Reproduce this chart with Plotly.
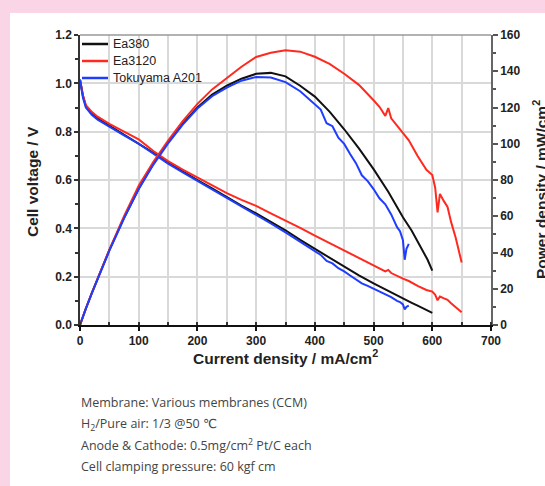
import plotly.graph_objects as go

# ---------------------------------------------------------------------------
# Polarization (cell voltage) and power density curves for three AEM membranes
# ---------------------------------------------------------------------------

current_ea380 = [0, 5, 10, 20, 30, 50, 75, 100, 125, 150, 175, 200, 225, 250, 275,
                 300, 325, 350, 375, 400, 425, 450, 475, 500, 525, 550, 565, 575,
                 585, 592, 600]
voltage_ea380 = [1.015, 0.95, 0.905, 0.875, 0.855, 0.825, 0.788, 0.752, 0.712, 0.672,
                 0.635, 0.600, 0.565, 0.528, 0.494, 0.462, 0.428, 0.392, 0.352, 0.315,
                 0.277, 0.240, 0.205, 0.172, 0.140, 0.108, 0.092, 0.080, 0.068, 0.060,
                 0.050]
power_ea380 = [0, 4.8, 9.1, 17.5, 25.7, 41.3, 59.1, 75.2, 89.0, 100.8, 111.1, 120.0,
               127.1, 132.0, 135.9, 138.6, 139.1, 137.2, 132.0, 126.0, 117.7, 108.0,
               97.4, 86.0, 73.5, 59.4, 52.0, 46.0, 40.0, 36.0, 30.0]

current_ea3120 = [0, 5, 10, 20, 30, 50, 75, 100, 125, 150, 175, 200, 225, 250, 275,
                  300, 325, 350, 375, 400, 425, 450, 475, 500, 510, 520, 525, 530,
                  550, 560, 575, 590, 600, 605, 609, 613, 620, 626, 632, 640, 650]
voltage_ea3120 = [1.015, 0.95, 0.91, 0.882, 0.862, 0.832, 0.800, 0.768, 0.720, 0.678,
                  0.643, 0.610, 0.578, 0.546, 0.518, 0.493, 0.462, 0.433, 0.402, 0.370,
                  0.339, 0.308, 0.279, 0.248, 0.236, 0.222, 0.228, 0.215, 0.192, 0.182,
                  0.162, 0.145, 0.138, 0.125, 0.102, 0.118, 0.110, 0.104, 0.090, 0.075,
                  0.053]
power_ea3120 = [0, 4.8, 9.1, 17.6, 25.9, 41.6, 60.0, 76.8, 90.0, 101.7, 112.5, 122.0,
                130.0, 136.5, 142.5, 147.9, 150.2, 151.6, 150.8, 148.0, 144.1, 138.6,
                132.5, 124.0, 120.4, 115.4, 119.7, 114.0, 105.6, 101.9, 93.2, 85.6,
                82.8, 75.6, 62.1, 72.3, 68.2, 65.1, 56.9, 48.0, 34.5]

current_a201 = [0, 5, 10, 20, 30, 50, 75, 100, 125, 150, 175, 200, 225, 250, 275,
                300, 325, 350, 375, 400, 410, 420, 430, 440, 450, 460, 470, 480, 490,
                500, 510, 520, 530, 540, 545, 550, 553, 556, 560]
voltage_a201 = [1.015, 0.94, 0.90, 0.870, 0.850, 0.820, 0.785, 0.750, 0.708, 0.668,
                0.632, 0.597, 0.561, 0.524, 0.490, 0.456, 0.420, 0.383, 0.344, 0.305,
                0.290, 0.265, 0.255, 0.235, 0.222, 0.205, 0.190, 0.172, 0.162, 0.150,
                0.137, 0.128, 0.115, 0.100, 0.095, 0.085, 0.065, 0.075, 0.080]
power_a201 = [0, 4.7, 9.0, 17.4, 25.5, 41.0, 58.9, 75.0, 88.5, 100.2, 110.6, 119.4,
              126.2, 131.0, 134.8, 136.8, 136.5, 134.0, 129.0, 122.0, 118.9, 111.3,
              109.7, 103.4, 99.9, 94.3, 89.3, 82.6, 79.4, 75.0, 69.9, 66.6, 61.0, 54.0,
              51.8, 46.8, 36.0, 42.0, 44.8]

series = [
    ("Ea380", current_ea380, voltage_ea380, power_ea380, "#111111"),
    ("Ea3120", current_ea3120, voltage_ea3120, power_ea3120, "#ff2a1f"),
    ("Tokuyama A201", current_a201, voltage_a201, power_a201, "#1f3dff"),
]

notes = [
    "Membrane: Various membranes (CCM)",
    "H<sub>2</sub>/Pure air: 1/3 @50 \u2103",
    "Anode &amp; Cathode: 0.5mg/cm<sup>2</sup> Pt/C each",
    "Cell clamping pressure: 60 kgf cm",
]

# ---------------------------------------------------------------------------
W, H = 545, 486
ML, MR, MT, MB = 80, 54, 35, 161
PW, PH = W - ML - MR, H - MT - MB


def px_x(px):
    return (px - ML) / PW


def px_y(py):
    return (H - MB - py) / PH


FONT = "Liberation Sans, Arial, sans-serif"
GRID = "#d9d9d9"

fig = go.Figure()

for name, cur, volt, powr, color in series:
    fig.add_trace(go.Scatter(
        x=cur, y=volt, name=name, mode="lines", showlegend=False,
        line=dict(color=color, width=2), yaxis="y",
    ))
for name, cur, volt, powr, color in series:
    fig.add_trace(go.Scatter(
        x=cur, y=powr, name=name, mode="lines", showlegend=False,
        line=dict(color=color, width=2), yaxis="y2",
    ))

tickfont = dict(family=FONT, size=12, color="#222", weight="bold")

fig.update_layout(
    width=W, height=H,
    margin=dict(l=ML, r=MR, t=MT, b=MB, pad=0),
    paper_bgcolor="white",
    plot_bgcolor="white",
    showlegend=False,
    xaxis=dict(
        range=[0, 700], tick0=0, dtick=100, tickmode="linear",
        ticks="outside", ticklen=4, tickwidth=1.5, tickcolor="#111",
        showline=True, linecolor="#111", linewidth=2,
        showgrid=True, gridcolor=GRID, gridwidth=1.5, zeroline=False,
        minor=dict(tick0=0, dtick=50, ticks="inside", ticklen=3, tickcolor="#333",
                   showgrid=True, gridcolor=GRID, gridwidth=1.5),
        tickfont=tickfont,
    ),
    yaxis=dict(
        range=[0, 1.2], tick0=0, dtick=0.2, tickmode="linear", tickformat=".1f",
        ticks="outside", ticklen=4, tickwidth=1.5, tickcolor="#333",
        showline=True, linecolor="#333", linewidth=1.5,
        showgrid=True, gridcolor=GRID, gridwidth=1.5, zeroline=False,
        minor=dict(tick0=0, dtick=0.1, ticks="outside", ticklen=3, tickcolor="#333",
                   showgrid=False),
        tickfont=tickfont,
    ),
    yaxis2=dict(
        overlaying="y", side="right",
        range=[0, 160], tick0=0, dtick=20, tickmode="linear",
        ticks="outside", ticklen=5, tickwidth=1.5, tickcolor="#555",
        showline=True, linecolor="#666", linewidth=1.5,
        showgrid=False, zeroline=False,
        minor=dict(tick0=0, dtick=10, ticks="outside", ticklen=3, tickcolor="#555"),
        tickfont=tickfont,
    ),
)

# pink page frame around the white panel
PINK = "#f9d5e5"
fig.add_shape(type="rect", xref="paper", yref="paper", layer="below",
              x0=px_x(-5), x1=px_x(10), y0=px_y(H + 5), y1=px_y(-5),
              fillcolor=PINK, line_width=0)
fig.add_shape(type="rect", xref="paper", yref="paper", layer="below",
              x0=px_x(-5), x1=px_x(W + 5), y0=px_y(13), y1=px_y(-5),
              fillcolor=PINK, line_width=0)
# top frame of the plot box
fig.add_shape(type="line", xref="paper", yref="paper",
              x0=0, x1=1, y0=1, y1=1, line=dict(color="#999", width=1.5))

# legend block in the upper-left corner of the plot
legend_font = dict(family=FONT, size=12.5, color="#222")
for i, (name, _, _, _, color) in enumerate(series):
    yy = px_y(44 + 17 * i)
    fig.add_shape(type="line", xref="paper", yref="paper",
                  x0=px_x(82), x1=px_x(108), y0=yy, y1=yy,
                  line=dict(color=color, width=2.5))
    fig.add_annotation(text=name, xref="paper", yref="paper",
                       x=px_x(111), y=yy, showarrow=False, font=legend_font,
                       xanchor="left", yanchor="middle")

titlefont = dict(family=FONT, size=15.5, color="#222", weight="bold")
fig.add_annotation(text="Current density / mA/cm<sup>2</sup>", xref="paper", yref="paper",
                   x=px_x(285), y=px_y(357), showarrow=False, font=titlefont,
                   xanchor="center", yanchor="middle")
fig.add_annotation(text="Cell voltage / V", xref="paper", yref="paper",
                   x=px_x(32), y=px_y(182), showarrow=False, font=titlefont,
                   textangle=-90, xanchor="center", yanchor="middle")
fig.add_annotation(text="Power density / mW/cm<sup>2</sup>", xref="paper", yref="paper",
                   x=px_x(540), y=px_y(190), showarrow=False, font=titlefont,
                   textangle=-90, xanchor="center", yanchor="middle")

notefont = dict(family="Open Sans, DejaVu Sans, sans-serif", size=12.5, color="#444")
for i, line in enumerate(notes):
    fig.add_annotation(text=line, xref="paper", yref="paper",
                       x=px_x(79), y=px_y(403 + 21 * i), showarrow=False,
                       font=notefont, xanchor="left", yanchor="middle", align="left")

fig.write_html("out.html")
